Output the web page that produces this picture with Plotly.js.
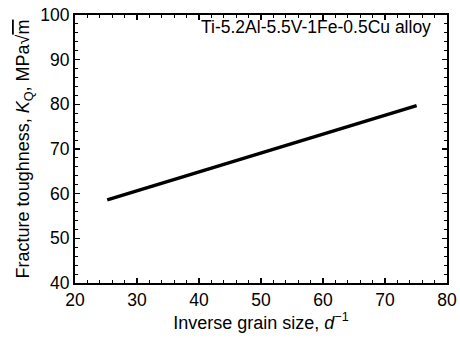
<!DOCTYPE html>
<html><head><meta charset="utf-8">
<script src="https://cdn.plot.ly/plotly-3.0.1.min.js"></script>
<style>html,body{margin:0;padding:0;background:#fff}#chart{width:460px;height:338px}</style>
</head><body><div id="chart"></div>
<script>
const grainSize = [25.2, 75.1];
const toughness = [58.6, 79.7];
const xTicks = [20, 30, 40, 50, 60, 70, 80];
const yTicks = [40, 50, 60, 70, 80, 90, 100];
const alloyLabel = 'Ti-5.2Al-5.5V-1Fe-0.5Cu alloy';

const font = {family: 'Liberation Sans, Arial, sans-serif', color: '#000'};
const axisCommon = {
  showgrid: false, zeroline: false, showline: true, linecolor: '#000', linewidth: 2,
  mirror: 'allticks', ticks: 'inside', ticklen: 5, tickwidth: 1.5, tickcolor: '#000',
  tickfont: Object.assign({size: 17.5}, font),
  minor: {ticks: 'inside', ticklen: 3, tickwidth: 1, tickcolor: '#000', dtick: 2}
};
const layout = {
  width: 460, height: 338,
  margin: {l: 75, r: 13, t: 15, b: 55},
  paper_bgcolor: '#fff', plot_bgcolor: '#fff',
  showlegend: false,
  xaxis: Object.assign({}, axisCommon, {
    range: [20, 80], tickvals: xTicks, ticktext: xTicks.map(String),
    title: {text: 'Inverse grain size, <i>d</i><sup>−1</sup>', font: Object.assign({size: 18}, font), standoff: 3}
  }),
  yaxis: Object.assign({}, axisCommon, {
    range: [40, 100], tickvals: yTicks, ticktext: yTicks.map(String),
    title: {text: 'Fracture toughness, <i>K</i><sub>Q</sub>, MPa√<span style="text-decoration:overline">m</span>', font: Object.assign({size: 18}, font), standoff: 6}
  }),
  annotations: [{
    text: alloyLabel, xref: 'paper', yref: 'paper', x: 0.962, y: 0.955,
    xanchor: 'right', yanchor: 'middle', showarrow: false,
    font: Object.assign({size: 17.5}, font)
  }]
};
Plotly.newPlot('chart', [{
  x: grainSize, y: toughness, type: 'scatter', mode: 'lines',
  line: {color: '#000', width: 3.5}
}], layout, {staticPlot: true});
</script></body></html>
